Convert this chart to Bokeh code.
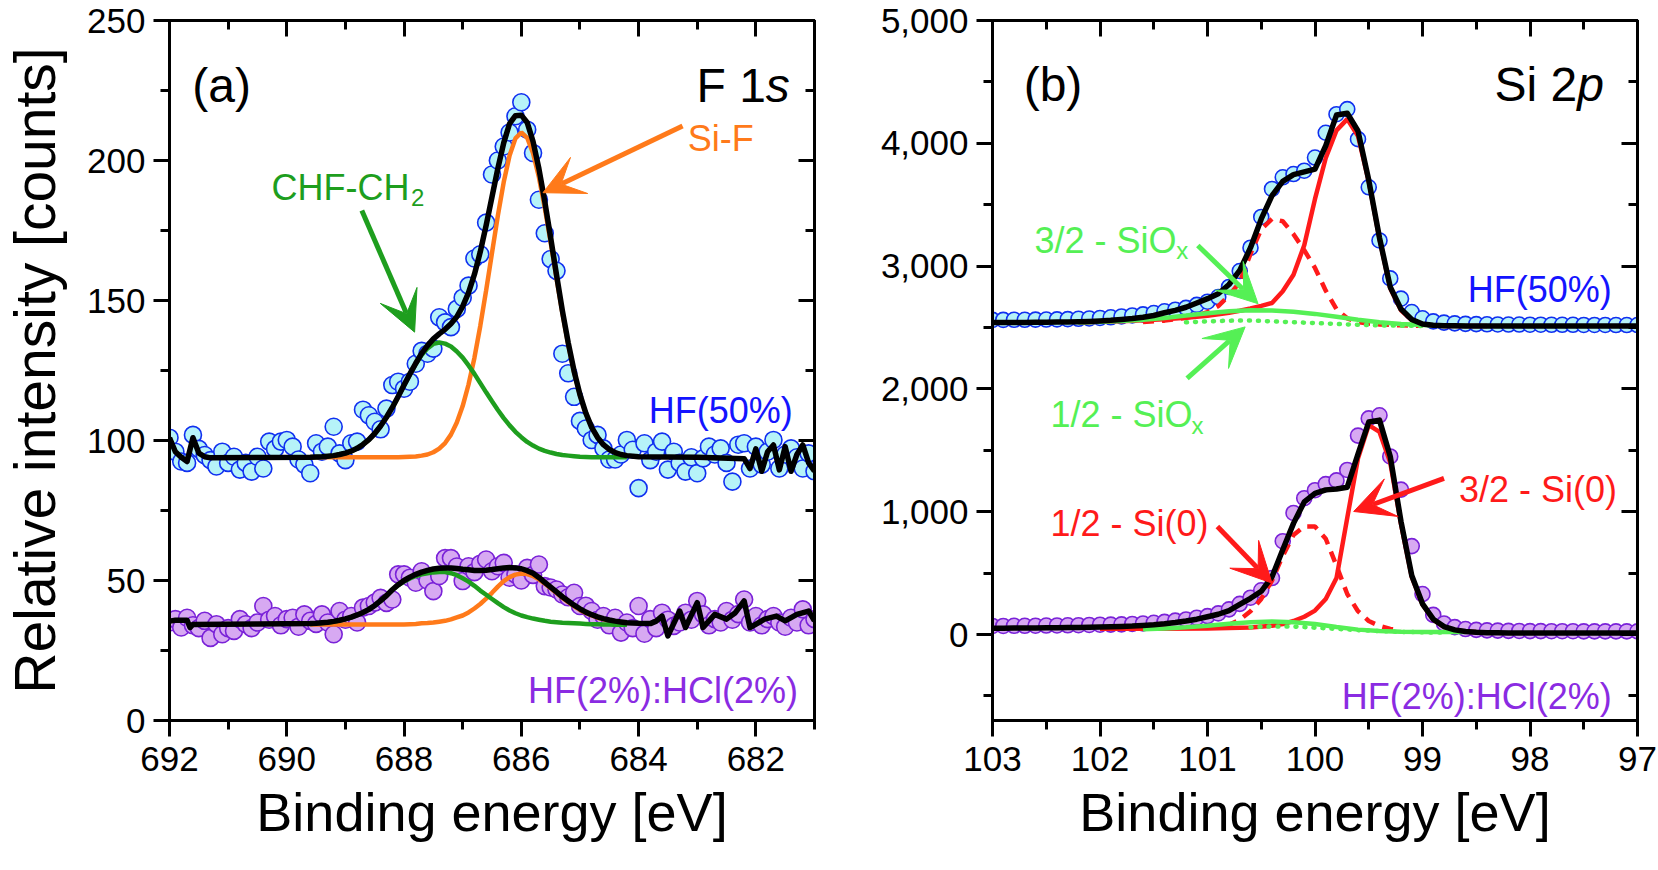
from bokeh.plotting import figure
from bokeh.models import (Range1d, LinearAxis, SingleIntervalTicker,
                          NumeralTickFormatter, Arrow, VeeHead, CustomLabelingPolicy)
from bokeh.layouts import row
from bokeh.embed import file_html
from bokeh.resources import INLINE
from bokeh.core.properties import value

FONT = "Liberation Sans"

# ===================== DATA : panel (a) F 1s =====================
E_A = [692.0, 691.9, 691.8, 691.7, 691.6, 691.5, 691.4, 691.3, 691.2, 691.1,
       691.0, 690.9, 690.8, 690.7, 690.6, 690.5, 690.4, 690.3, 690.2, 690.1,
       690.0, 689.9, 689.8, 689.7, 689.6, 689.5, 689.4, 689.3, 689.2, 689.1,
       689.0, 688.9, 688.8, 688.7, 688.6, 688.5, 688.4, 688.3, 688.2, 688.1,
       688.0, 687.9, 687.8, 687.7, 687.6, 687.5, 687.4, 687.3, 687.2, 687.1,
       687.0, 686.9, 686.8, 686.7, 686.6, 686.5, 686.4, 686.3, 686.2, 686.1,
       686.0, 685.9, 685.8, 685.7, 685.6, 685.5, 685.4, 685.3, 685.2, 685.1,
       685.0, 684.9, 684.8, 684.7, 684.6, 684.5, 684.4, 684.3, 684.2, 684.1,
       684.0, 683.9, 683.8, 683.7, 683.6, 683.5, 683.4, 683.3, 683.2, 683.1,
       683.0, 682.9, 682.8, 682.7, 682.6, 682.5, 682.4, 682.3, 682.2, 682.1,
       682.0, 681.9, 681.8, 681.7, 681.6, 681.5, 681.4, 681.3, 681.2, 681.1,
       681.0]
HF50_A = [101, 96, 92.5, 92, 102, 97, 94.8, 93, 90.7, 96,
          92, 94.2, 89.6, 92, 88.9, 94.2, 90, 99.6, 97, 99.6,
          100.2, 97.8, 93.2, 91.4, 88.3, 99, 96, 97.8, 104.9, 95.4,
          93, 99, 99.6, 111, 109, 106.7, 104, 111.4, 119.8, 121,
          118.5, 121, 127.4, 132, 131, 132.8, 144, 142.2, 140.5, 147,
          151, 155.3, 165, 166.5, 177.8, 195, 200, 205, 210, 215.8,
          220.8, 211, 202.7, 186, 174, 164.8, 160.6, 131, 124, 115.6,
          107, 104.3, 100.2, 102, 97.2, 93.2, 93.2, 95, 100.2, 96.7,
          83, 99, 93, 96, 99.6, 89.6, 96, 92, 88.9, 94,
          88.3, 93.6, 97.8, 95, 97.2, 92, 85.3, 98.5, 99, 90,
          97.8, 91.4, 96, 100.2, 90, 95, 97.2, 94, 90, 95.4,
          89]
HF2_A = [35, 36.2, 33.2, 36.7, 34, 33, 35.6, 29.5, 34.4, 30.8,
         33, 32, 36.2, 34.4, 33, 35, 40.9, 36, 37.3, 34,
         36.2, 36.7, 33.5, 37.9, 35.6, 34.5, 37.9, 35, 30.8, 39.1,
         36, 37.3, 35, 40.3, 40.9, 42.1, 43.8, 42, 43.2, 52.2,
         52.2, 51, 49.2, 53.3, 50, 46.2, 51.6, 58, 58, 55,
         49.8, 55.1, 53, 56, 57.5, 53.3, 55.1, 56.3, 51, 52.2,
         50, 54.5, 52, 55.7, 48, 47.5, 46.8, 45, 44, 45.6,
         40.9, 41, 39.1, 36, 37.3, 34, 36.7, 31.4, 35, 33,
         40.9, 31, 36.2, 33, 38.5, 36, 33.8, 35, 38.5, 36,
         42.7, 37.9, 34, 36.2, 35, 39.1, 36, 38, 43.2, 35,
         37.3, 34, 36.2, 37.3, 35, 33.5, 36.7, 35, 39.7, 34,
         36.2]

FIT_A_X = [689.6, 689.5, 689.4, 689.3, 689.2, 689.1, 689.0, 688.9, 688.8, 688.7,
           688.6, 688.5, 688.4, 688.3, 688.2, 688.1, 688.0, 687.9, 687.8, 687.7,
           687.6, 687.5, 687.4, 687.3, 687.2, 687.1, 687.0, 686.9, 686.8, 686.7,
           686.6, 686.5, 686.4, 686.3, 686.2, 686.1, 686.0, 685.9, 685.8, 685.7,
           685.6, 685.5, 685.4, 685.3, 685.2, 685.1, 685.0, 684.9, 684.8, 684.7,
           684.6, 684.5, 684.4, 684.3, 684.2]
CHF_A_TOP = [94.0, 94.1, 94.2, 94.4, 94.6, 95.0, 95.5, 96.2, 97.2, 98.6,
             100.3, 102.5, 105.2, 108.3, 111.8, 115.7, 119.7, 123.6, 127.3, 130.5,
             132.9, 134.5, 135.0, 134.6, 133.6, 131.8, 129.6, 126.8, 123.8, 120.5,
             117.2, 114.0, 110.9, 108.0, 105.4, 103.1, 101.2, 99.5, 98.2, 97.1,
             96.3, 95.7, 95.2, 94.8, 94.6, 94.4, 94.2, 94.1, 94.0, 94.0,
             94.0, 94.0, 94.0, 94.0, 94.0]
SIF_A_TOP = [94.0, 94.0, 94.0, 94.0, 94.0, 94.0, 94.0, 94.0, 94.0, 94.0,
             94.0, 94.0, 94.0, 94.0, 94.0, 94.0, 94.1, 94.2, 94.3, 94.6,
             95.0, 95.8, 97.1, 99.1, 102.1, 106.4, 112.3, 120.0, 129.5, 140.9,
             153.6, 167.0, 180.3, 192.3, 201.8, 207.9, 210.0, 208.1, 202.6, 194.0,
             183.1, 170.8, 158.0, 145.6, 134.3, 124.4, 116.2, 109.7, 104.7, 101.1,
             98.5, 96.8, 95.7, 95.0, 94.6]
ENV_A_TOP_LX = [692.0, 691.9, 691.8, 691.7, 691.6, 691.5, 691.4, 691.3, 690.5]
ENV_A_TOP_LY = [101.0, 96.0, 94.0, 92.5, 101.0, 95.5, 94.2, 93.8, 93.9]
ENV_A_TOP_F = [94.0, 94.1, 94.2, 94.4, 94.6, 95.0, 95.5, 96.2, 97.2, 98.6,
               100.3, 102.5, 105.2, 108.3, 111.8, 115.7, 119.8, 123.8, 127.6, 131.1,
               133.9, 136.3, 138.1, 139.7, 141.7, 144.2, 147.9, 152.8, 159.3, 167.4,
               176.8, 187.0, 197.2, 206.3, 213.2, 216.0, 216.2, 213.6, 206.8, 197.1,
               185.4, 172.5, 159.2, 146.4, 134.9, 124.8, 116.4, 109.8, 104.7, 101.1,
               98.5, 96.8, 95.7, 95.0, 94.6]
ENV_A_TOP_RX = [684.0, 683.0, 682.2, 682.1, 682.0, 681.9, 681.8, 681.7, 681.6, 681.5,
                681.4, 681.3, 681.2, 681.1, 681.0]
ENV_A_TOP_RY = [94.2, 94.0, 93.5, 90.0, 97.0, 89.0, 96.0, 98.4, 89.5, 97.8,
                89.0, 95.0, 98.4, 92.0, 89.0]

CHF_A_BOT = [34.5, 34.6, 34.8, 35.0, 35.3, 35.7, 36.2, 36.8, 37.6, 38.5,
             39.6, 41.0, 42.7, 44.5, 46.6, 48.3, 49.6, 50.7, 51.6, 52.2,
             52.6, 52.9, 53.0, 53.0, 52.6, 51.9, 50.8, 49.6, 48.1, 46.4,
             44.9, 43.4, 41.9, 40.5, 39.3, 38.3, 37.5, 36.9, 36.4, 36.0,
             35.6, 35.3, 35.1, 34.9, 34.8, 34.7, 34.6, 34.5, 34.4, 34.4,
             34.3, 34.3, 34.2, 34.2, 34.2]
SIF_A_BOT = [34.3, 34.3, 34.3, 34.3, 34.3, 34.3, 34.3, 34.3, 34.3, 34.3,
             34.3, 34.3, 34.3, 34.3, 34.3, 34.3, 34.3, 34.4, 34.5, 34.7,
             34.8, 35.0, 35.3, 35.6, 36.1, 36.8, 37.5, 38.6, 40.0, 41.6,
             43.5, 45.6, 47.8, 49.8, 51.2, 52.1, 52.5, 52.3, 51.6, 50.4,
             48.9, 47.2, 45.5, 43.8, 42.3, 40.8, 39.5, 38.4, 37.5, 36.7,
             36.1, 35.6, 35.2, 34.9, 34.7]
ENV_A_BOT_LX = [692.0, 691.9, 691.8, 691.7, 691.65, 691.6, 690.5]
ENV_A_BOT_LY = [35.5, 35.8, 35.8, 35.8, 33.2, 34.3, 34.5]
ENV_A_BOT_F = [34.6, 34.7, 34.9, 35.1, 35.4, 35.8, 36.3, 36.9, 37.7, 38.6,
               39.7, 41.1, 42.8, 44.6, 46.7, 48.5, 50.0, 51.2, 52.2, 53.0,
               53.6, 54.1, 54.4, 54.5, 54.5, 54.3, 54.0, 53.8, 53.6, 53.6,
               53.7, 53.9, 54.2, 54.5, 54.6, 54.5, 54.2, 53.5, 52.6, 51.1,
               49.3, 47.6, 45.9, 44.2, 42.7, 41.2, 39.9, 38.7, 37.8, 37.0,
               36.4, 35.9, 35.5, 35.2, 34.9]
ENV_A_BOT_RX = [684.0, 683.8, 683.7, 683.6, 683.5, 683.3, 683.2, 683.0, 682.9, 682.7,
                682.5, 682.35, 682.2, 682.1, 681.85, 681.65, 681.5, 681.3, 681.1, 681.0]
ENV_A_BOT_RY = [34.7, 34.6, 35.5, 37.3, 30.2, 39.1, 33.2, 42.1, 33.2, 37.9,
                36.2, 38.5, 42.7, 33.2, 36.2, 37.3, 35.6, 37.9, 39.1, 35.6]

# ===================== DATA : panel (b) Si 2p =====================
E_B = [103.0, 102.9, 102.8, 102.7, 102.6, 102.5, 102.4, 102.3, 102.2, 102.1,
       102.0, 101.9, 101.8, 101.7, 101.6, 101.5, 101.4, 101.3, 101.2, 101.1,
       101.0, 100.9, 100.8, 100.7, 100.6, 100.5, 100.4, 100.3, 100.2, 100.1,
       100.0, 99.9, 99.8, 99.7, 99.6, 99.5, 99.4, 99.3, 99.2, 99.1,
       99.0, 98.9, 98.8, 98.7, 98.6, 98.5, 98.4, 98.3, 98.2, 98.1,
       98.0, 97.9, 97.8, 97.7, 97.6, 97.5, 97.4, 97.3, 97.2, 97.1,
       97.0]
HF50_B = [2562, 2562, 2563, 2563, 2564, 2565, 2566, 2568, 2571, 2574,
          2578, 2583, 2590, 2598, 2607, 2618, 2632, 2645, 2660, 2684,
          2710, 2748, 2830, 2960, 3150, 3400, 3628, 3723, 3750, 3777,
          3884, 4086, 4237, 4278, 4034, 3642, 3209, 2900, 2735, 2626,
          2575, 2550, 2540, 2534, 2530, 2528, 2526, 2525, 2524, 2524,
          2523, 2523, 2522, 2522, 2522, 2521, 2521, 2521, 2520, 2520,
          2520]
ENV_B_TOP = [2540, 2540, 2541, 2541, 2542, 2543, 2544, 2545, 2547, 2550,
             2554, 2559, 2566, 2574, 2584, 2598, 2620, 2640, 2665, 2700,
             2735, 2775, 2850, 2965, 3150, 3384, 3574, 3690, 3745, 3767,
             3790, 3980, 4230, 4245, 4100, 3700, 3230, 2830, 2650, 2565,
             2528, 2518, 2515, 2514, 2513, 2513, 2512, 2512, 2512, 2512,
             2512, 2512, 2512, 2512, 2512, 2512, 2512, 2512, 2512, 2512,
             2512]
HF2_B = [70, 70, 71, 71, 72, 73, 74, 75, 76, 78,
         80, 81, 83, 86, 90, 96, 103, 113, 123, 137,
         150, 172, 205, 250, 300, 360, 460, 760, 990, 1110,
         1175, 1225, 1255, 1340, 1620, 1760, 1785, 1450, 1180, 720,
         330, 160, 90, 60, 45, 38, 34, 32, 30, 29,
         28, 28, 27, 27, 27, 26, 26, 26, 26, 26,
         26]
ENV_B_BOT = [52, 52, 53, 53, 54, 55, 56, 57, 58, 60,
             62, 64, 66, 69, 74, 80, 88, 98, 110, 125,
             145, 165, 195, 245, 295, 352, 470, 690, 905, 1080,
             1150, 1178, 1185, 1200, 1470, 1730, 1746, 1450, 920, 480,
             250, 125, 65, 38, 25, 18, 15, 14, 13, 13,
             13, 13, 13, 13, 13, 13, 13, 13, 13, 13,
             13]

SI32_TOP_X = [102.2, 102.0, 101.8, 101.6, 101.4, 101.2, 101.0, 100.9, 100.8, 100.7,
              100.6, 100.5, 100.4, 100.3, 100.2, 100.1, 100.0, 99.9, 99.8, 99.7,
              99.6, 99.5, 99.4, 99.3, 99.2, 99.1, 99.0, 98.9, 98.8, 98.6, 98.4]
SI32_TOP_Y = [2541, 2546, 2552, 2559, 2568, 2580, 2596, 2607, 2620, 2636,
              2655, 2676, 2700, 2795, 2930, 3170, 3547, 3880, 4105, 4197,
              4060, 3690, 3220, 2820, 2640, 2560, 2526, 2516, 2513, 2512, 2512]
SI12_TOP_X = [101.6, 101.4, 101.2, 101.1, 101.0, 100.9, 100.8, 100.7, 100.6, 100.5,
              100.4, 100.3, 100.2, 100.1, 100.0, 99.9, 99.8, 99.7, 99.6, 99.5,
              99.4, 99.2, 99.0]
SI12_TOP_Y = [2545, 2556, 2580, 2598, 2625, 2675, 2760, 2870, 3100, 3300,
              3384, 3365, 3260, 3130, 2985, 2800, 2650, 2575, 2545, 2532,
              2525, 2518, 2514]
OX32_TOP_X = [102.2, 102.0, 101.8, 101.6, 101.4, 101.2, 101.0, 100.8, 100.6, 100.4,
              100.2, 100.0, 99.8, 99.6, 99.4, 99.2, 99.0, 98.8, 98.6]
OX32_TOP_Y = [2540, 2546, 2553, 2563, 2578, 2597, 2617, 2633, 2640, 2638,
              2628, 2611, 2588, 2564, 2543, 2528, 2520, 2516, 2514]
OX12_TOP_X = [101.2, 101.0, 100.8, 100.6, 100.4, 100.2, 100.0, 99.8, 99.6, 99.4,
              99.2, 99.0]
OX12_TOP_Y = [2542, 2550, 2556, 2557, 2550, 2543, 2536, 2529, 2522, 2518,
              2515, 2513]

SI32_BOT_X = [102.0, 101.5, 101.0, 100.8, 100.6, 100.4, 100.3, 100.2, 100.1, 100.0,
              99.9, 99.8, 99.7, 99.6, 99.5, 99.4, 99.3, 99.2, 99.1, 99.0,
              98.9, 98.8, 98.7, 98.6, 98.4]
SI32_BOT_Y = [47, 48, 50, 53, 58, 72, 85, 110, 145, 195,
              290, 460, 950, 1435, 1706, 1650, 1400, 900, 470, 245,
              122, 63, 36, 24, 15]
SI12_BOT_X = [101.0, 100.8, 100.7, 100.6, 100.5, 100.4, 100.3, 100.2, 100.1, 100.0,
              99.9, 99.8, 99.7, 99.6, 99.5, 99.4, 99.3, 99.2]
SI12_BOT_Y = [55, 80, 120, 190, 290, 440, 640, 810, 880, 880,
              780, 560, 330, 190, 110, 70, 45, 35]
OX32_BOT_X = [101.6, 101.4, 101.2, 101.0, 100.8, 100.6, 100.4, 100.2, 100.0, 99.8,
              99.6, 99.4, 99.2, 99.0, 98.8, 98.6]
OX32_BOT_Y = [42, 50, 60, 72, 88, 100, 106, 100, 85, 62,
              40, 28, 22, 20, 20, 20]
OX12_BOT_X = [100.6, 100.4, 100.2, 100.0, 99.8, 99.6, 99.4, 99.2, 99.0, 98.8]
OX12_BOT_Y = [60, 66, 65, 56, 46, 36, 28, 22, 18, 16]

# ===================== styles =====================
C_GREEN = "#1E9E1E"
C_ORANGE = "#FF7A1A"
C_BLUE = "#1414FF"
C_PURPLE = "#8A2BE2"
C_RED = "#FF1A1A"
C_LGREEN = "#55F055"
FILL_TOP, LINE_TOP = "#B6F3F8", "#1030F0"
FILL_BOT, LINE_BOT = "#D7A9F2", "#7A22D8"

NO_LABELS = "for (const i of indices) { indices.unset(i) }\nreturn indices"


def make_fig(xr, yr, xint, yint, min_left, min_right, ylabel=None, yfmt=None):
    p = figure(frame_width=645, frame_height=700,
               x_range=Range1d(*xr), y_range=Range1d(*yr),
               output_backend="svg", toolbar_location=None, tools="",
               min_border_left=min_left, min_border_right=min_right,
               min_border_top=20, min_border_bottom=40)
    p.outline_line_color = "black"
    p.outline_line_width = 3
    p.xgrid.visible = False
    p.ygrid.visible = False
    xb, yl = p.xaxis[0], p.yaxis[0]
    top = LinearAxis()
    right = LinearAxis()
    p.add_layout(top, "above")
    p.add_layout(right, "right")
    for ax, iv in ((xb, xint), (top, xint), (yl, yint), (right, yint)):
        ax.ticker = SingleIntervalTicker(interval=iv, num_minor_ticks=2)
        ax.axis_line_width = 3
        ax.axis_line_color = "black"
        ax.major_tick_line_width = 3
        ax.minor_tick_line_width = 3
        ax.major_tick_line_color = "black"
        ax.minor_tick_line_color = "black"
        ax.major_label_text_font = FONT
        ax.major_label_text_color = "black"
    for ax in (xb, yl):
        ax.major_tick_out = 16
        ax.major_tick_in = 0
        ax.minor_tick_out = 9
        ax.minor_tick_in = 0
        ax.major_label_text_font_size = "35px"
        ax.axis_label_text_font = FONT
        ax.axis_label_text_font_style = "normal"
        ax.axis_label_text_color = "black"
    xb.major_label_standoff = 10
    yl.major_label_standoff = 8
    for ax in (top, right):
        ax.major_tick_out = 0
        ax.major_tick_in = 16
        ax.minor_tick_out = 0
        ax.minor_tick_in = 9
        ax.major_label_policy = CustomLabelingPolicy(code=NO_LABELS)
        ax.major_label_text_font_size = "2px"
        ax.major_label_standoff = 0
    xb.axis_label = "Binding energy [eV]"
    xb.axis_label_text_font_size = "54px"
    xb.axis_label_standoff = 8
    if ylabel:
        yl.axis_label = ylabel
        yl.axis_label_text_font_size = "57px"
        yl.axis_label_standoff = 17
    if yfmt is not None:
        yl.formatter = yfmt
    return p


def txt(p, x, y, s, size, color="black", align="left", style="normal"):
    p.text(x=[x], y=[y], text=[s], text_font=value(FONT),
           text_font_size=value(f"{size}px"), text_color=value(color),
           text_align=value(align), text_baseline=value("alphabetic"),
           text_font_style=value(style))


def arrow(p, x0, y0, x1, y1, color):
    p.add_layout(Arrow(end=VeeHead(size=40, fill_color=color, line_color=color, line_width=1),
                       x_start=x0, y_start=y0, x_end=x1, y_end=y1,
                       line_color=color, line_width=5))


# ===================== panel (a) =====================
pa = make_fig((692, 681), (0, 250), 2, 50, 168, 20, ylabel="Relative intensity [counts]")
pa.scatter(E_A, HF50_A, size=17, marker="circle", fill_color=FILL_TOP, line_color=LINE_TOP, line_width=1.6)
pa.scatter(E_A, HF2_A, size=17, marker="circle", fill_color=FILL_BOT, line_color=LINE_BOT, line_width=1.6)
pa.line(FIT_A_X, SIF_A_TOP, line_color=C_ORANGE, line_width=4.5)
pa.line(FIT_A_X, CHF_A_TOP, line_color=C_GREEN, line_width=4.5)
pa.line(FIT_A_X, SIF_A_BOT, line_color=C_ORANGE, line_width=4.5)
pa.line(FIT_A_X, CHF_A_BOT, line_color=C_GREEN, line_width=4.5)
pa.line(ENV_A_TOP_LX + FIT_A_X + ENV_A_TOP_RX, ENV_A_TOP_LY + ENV_A_TOP_F + ENV_A_TOP_RY,
        line_color="black", line_width=5.5, line_join="round")
pa.line(ENV_A_BOT_LX + FIT_A_X + ENV_A_BOT_RX, ENV_A_BOT_LY + ENV_A_BOT_F + ENV_A_BOT_RY,
        line_color="black", line_width=5.5, line_join="round")

txt(pa, 691.61, 226.9, "(a)", 48)
txt(pa, 681.83, 226.9, "F 1", 48, align="right")
txt(pa, 681.83, 226.9, "s", 48, style="italic")
txt(pa, 690.26, 190.3, "CHF-CH", 36, C_GREEN)
txt(pa, 687.88, 186.7, "2", 24, C_GREEN)
txt(pa, 683.16, 208.0, "Si-F", 36, C_ORANGE)
txt(pa, 681.37, 110.6, "HF(50%)", 36, C_BLUE, align="right")
txt(pa, 681.28, 10.7, "HF(2%):HCl(2%)", 36, C_PURPLE, align="right")
arrow(pa, 688.72, 182.1, 687.82, 138.7, C_GREEN)
arrow(pa, 683.25, 212.3, 685.63, 188.5, C_ORANGE)

# ===================== panel (b) =====================
pb = make_fig((103, 97), (-700, 5000), 1, 1000, 158, 22, yfmt=NumeralTickFormatter(format="0,0"))
pb.scatter(E_B, HF50_B, size=15, marker="circle", fill_color=FILL_TOP, line_color=LINE_TOP, line_width=1.6)
pb.scatter(E_B, HF2_B, size=15, marker="circle", fill_color=FILL_BOT, line_color=LINE_BOT, line_width=1.6)
for xs, ys in ((SI12_TOP_X, SI12_TOP_Y), (SI12_BOT_X, SI12_BOT_Y)):
    pb.line(xs, ys, line_color=C_RED, line_width=4.5, line_dash="11 8")
for xs, ys in ((SI32_TOP_X, SI32_TOP_Y), (SI32_BOT_X, SI32_BOT_Y)):
    pb.line(xs, ys, line_color=C_RED, line_width=4.5)
for xs, ys in ((OX12_TOP_X, OX12_TOP_Y), (OX12_BOT_X, OX12_BOT_Y)):
    pb.line(xs, ys, line_color=C_LGREEN, line_width=4.5, line_dash="1 8", line_cap="round")
for xs, ys in ((OX32_TOP_X, OX32_TOP_Y), (OX32_BOT_X, OX32_BOT_Y)):
    pb.line(xs, ys, line_color=C_LGREEN, line_width=4.5)
pb.line(E_B, ENV_B_TOP, line_color="black", line_width=5.5, line_join="round")
pb.line(E_B, ENV_B_BOT, line_color="black", line_width=5.5, line_join="round")

txt(pb, 102.71, 4478, "(b)", 48)
txt(pb, 97.56, 4478, "Si 2", 48, align="right")
txt(pb, 97.56, 4478, "p", 48, style="italic")
txt(pb, 102.61, 3211, "3/2 - SiO", 36, C_LGREEN)
txt(pb, 101.29, 3130, "x", 24, C_LGREEN)
txt(pb, 102.46, 1790, "1/2 - SiO", 36, C_LGREEN)
txt(pb, 101.15, 1706, "x", 24, C_LGREEN)
txt(pb, 97.24, 2813, "HF(50%)", 36, C_BLUE, align="right")
txt(pb, 102.46, 906, "1/2 - Si(0)", 36, C_RED)
txt(pb, 97.19, 1180, "3/2 - Si(0)", 36, C_RED, align="right")
txt(pb, 97.24, -501, "HF(2%):HCl(2%)", 36, C_PURPLE, align="right")
arrow(pb, 101.09, 3168, 100.53, 2694, C_LGREEN)
arrow(pb, 101.19, 2085, 100.65, 2505, C_LGREEN)
arrow(pb, 100.908, 880, 100.40, 419, C_RED)
arrow(pb, 98.80, 1272, 99.64, 1002, C_RED)

layout = row(pa, pb)
open("out.html", "w").write(file_html(layout, INLINE))
